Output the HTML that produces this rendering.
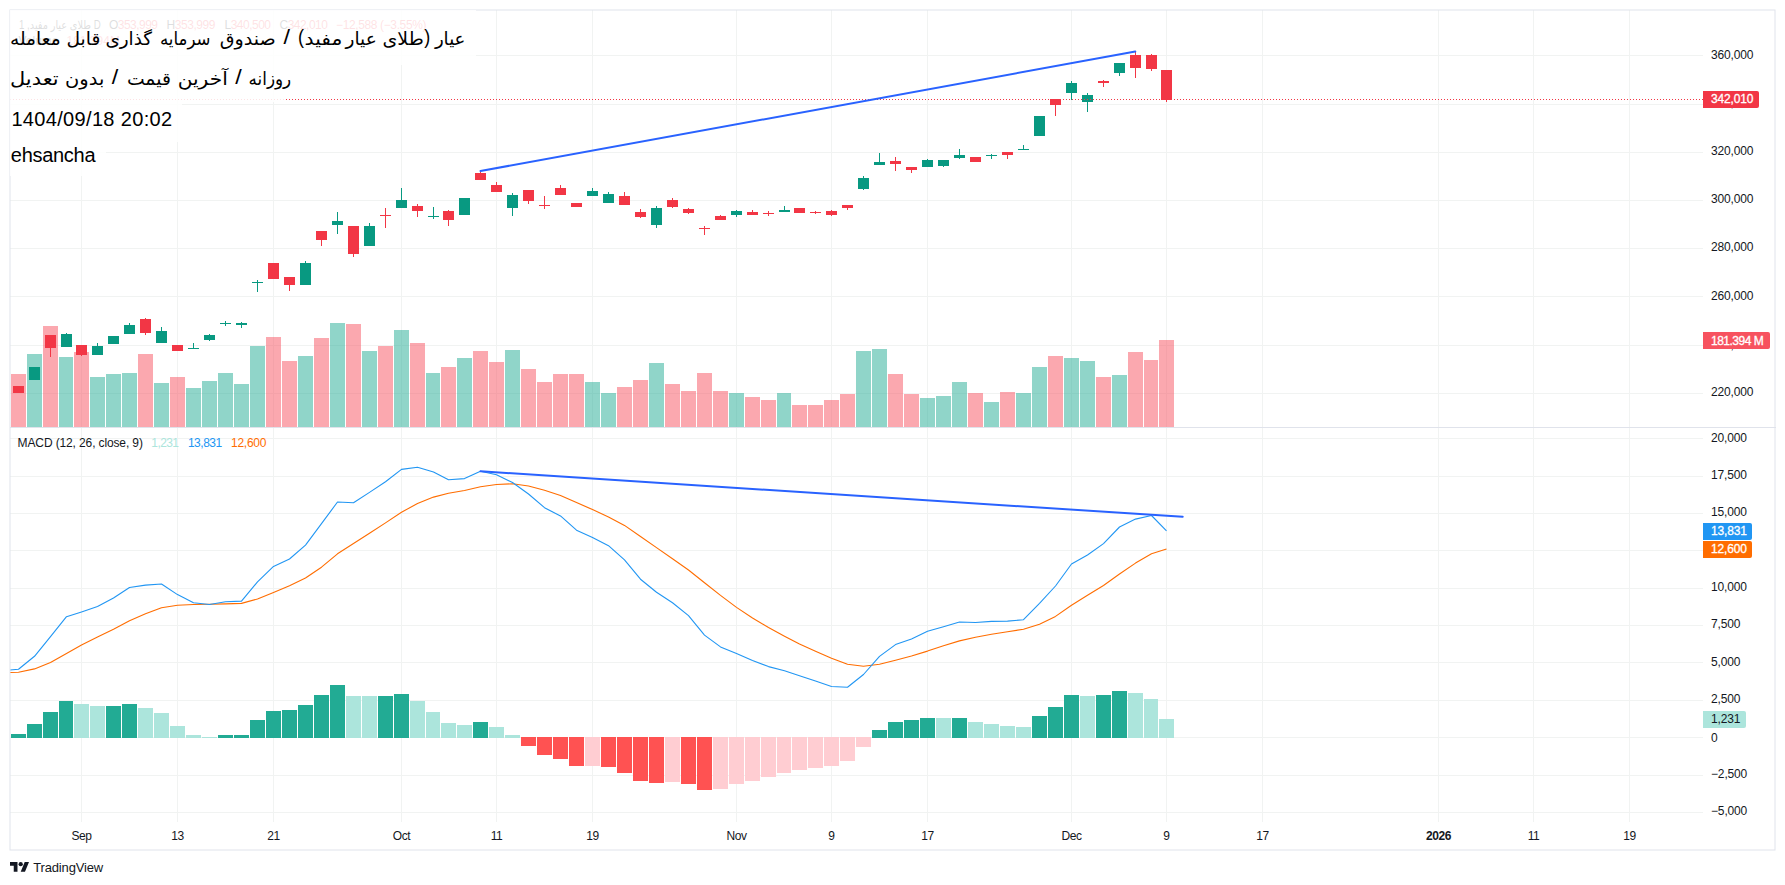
<!DOCTYPE html>
<html lang="fa"><head><meta charset="utf-8"><title>TradingView chart</title>
<style>
html,body{margin:0;padding:0;background:#fff}
body{width:1785px;height:885px;overflow:hidden;position:relative}
svg{position:absolute;left:0;top:0;display:block}
text{font-family:"Liberation Sans","DejaVu Sans",sans-serif}
.ar{font-family:"Liberation Sans","DejaVu Sans",sans-serif}
</style></head><body>
<svg width="1785" height="885" viewBox="0 0 1785 885" font-size="12" fill="#131722">
<rect width="1785" height="885" fill="#fff"/>
<g shape-rendering="crispEdges" fill="#f1f3f2">
<rect x="81" y="10" width="1" height="812"/><rect x="177" y="10" width="1" height="812"/><rect x="273" y="10" width="1" height="812"/><rect x="401" y="10" width="1" height="812"/><rect x="496" y="10" width="1" height="812"/><rect x="592" y="10" width="1" height="812"/><rect x="736" y="10" width="1" height="812"/><rect x="831" y="10" width="1" height="812"/><rect x="927" y="10" width="1" height="812"/><rect x="1071" y="10" width="1" height="812"/><rect x="1166" y="10" width="1" height="812"/><rect x="1262" y="10" width="1" height="812"/><rect x="1438" y="10" width="1" height="812"/><rect x="1533" y="10" width="1" height="812"/><rect x="1629" y="10" width="1" height="812"/>
<rect x="10" y="55" width="1693" height="1"/><rect x="10" y="104" width="1693" height="1"/><rect x="10" y="152" width="1693" height="1"/><rect x="10" y="200" width="1693" height="1"/><rect x="10" y="248" width="1693" height="1"/><rect x="10" y="296" width="1693" height="1"/><rect x="10" y="345" width="1693" height="1"/><rect x="10" y="393" width="1693" height="1"/><rect x="10" y="438" width="1693" height="1"/><rect x="10" y="476" width="1693" height="1"/><rect x="10" y="513" width="1693" height="1"/><rect x="10" y="550" width="1693" height="1"/><rect x="10" y="588" width="1693" height="1"/><rect x="10" y="625" width="1693" height="1"/><rect x="10" y="662" width="1693" height="1"/><rect x="10" y="700" width="1693" height="1"/><rect x="10" y="737" width="1693" height="1"/><rect x="10" y="775" width="1693" height="1"/><rect x="10" y="812" width="1693" height="1"/>
</g>
<g shape-rendering="crispEdges">
<rect x="11" y="374" width="15" height="53" fill="rgba(247,82,95,0.5)"/><rect x="27" y="354" width="15" height="73" fill="rgba(34,171,148,0.5)"/><rect x="43" y="326" width="15" height="101" fill="rgba(247,82,95,0.5)"/><rect x="59" y="357" width="14" height="70" fill="rgba(34,171,148,0.5)"/><rect x="74" y="352" width="15" height="75" fill="rgba(247,82,95,0.5)"/><rect x="90" y="377" width="15" height="50" fill="rgba(34,171,148,0.5)"/><rect x="106" y="374" width="15" height="53" fill="rgba(34,171,148,0.5)"/><rect x="122" y="373" width="15" height="54" fill="rgba(34,171,148,0.5)"/><rect x="138" y="354" width="15" height="73" fill="rgba(247,82,95,0.5)"/><rect x="154" y="383" width="15" height="44" fill="rgba(34,171,148,0.5)"/><rect x="170" y="377" width="15" height="50" fill="rgba(247,82,95,0.5)"/><rect x="186" y="388" width="15" height="39" fill="rgba(34,171,148,0.5)"/><rect x="202" y="381" width="15" height="46" fill="rgba(34,171,148,0.5)"/><rect x="218" y="373" width="15" height="54" fill="rgba(34,171,148,0.5)"/><rect x="234" y="384" width="15" height="43" fill="rgba(34,171,148,0.5)"/><rect x="250" y="346" width="15" height="81" fill="rgba(34,171,148,0.5)"/><rect x="266" y="337" width="15" height="90" fill="rgba(247,82,95,0.5)"/><rect x="282" y="361" width="15" height="66" fill="rgba(247,82,95,0.5)"/><rect x="298" y="356" width="15" height="71" fill="rgba(34,171,148,0.5)"/><rect x="314" y="338" width="15" height="89" fill="rgba(247,82,95,0.5)"/><rect x="330" y="323" width="15" height="104" fill="rgba(34,171,148,0.5)"/><rect x="346" y="324" width="15" height="103" fill="rgba(247,82,95,0.5)"/><rect x="362" y="351" width="15" height="76" fill="rgba(34,171,148,0.5)"/><rect x="378" y="346" width="15" height="81" fill="rgba(247,82,95,0.5)"/><rect x="394" y="330" width="15" height="97" fill="rgba(34,171,148,0.5)"/><rect x="410" y="343" width="15" height="84" fill="rgba(247,82,95,0.5)"/><rect x="426" y="373" width="14" height="54" fill="rgba(34,171,148,0.5)"/><rect x="441" y="367" width="15" height="60" fill="rgba(247,82,95,0.5)"/><rect x="457" y="358" width="15" height="69" fill="rgba(34,171,148,0.5)"/><rect x="473" y="351" width="15" height="76" fill="rgba(247,82,95,0.5)"/><rect x="489" y="362" width="15" height="65" fill="rgba(247,82,95,0.5)"/><rect x="505" y="350" width="15" height="77" fill="rgba(34,171,148,0.5)"/><rect x="521" y="369" width="15" height="58" fill="rgba(247,82,95,0.5)"/><rect x="537" y="382" width="15" height="45" fill="rgba(247,82,95,0.5)"/><rect x="553" y="374" width="15" height="53" fill="rgba(247,82,95,0.5)"/><rect x="569" y="374" width="15" height="53" fill="rgba(247,82,95,0.5)"/><rect x="585" y="382" width="15" height="45" fill="rgba(34,171,148,0.5)"/><rect x="601" y="393" width="15" height="34" fill="rgba(34,171,148,0.5)"/><rect x="617" y="387" width="15" height="40" fill="rgba(247,82,95,0.5)"/><rect x="633" y="380" width="15" height="47" fill="rgba(247,82,95,0.5)"/><rect x="649" y="363" width="15" height="64" fill="rgba(34,171,148,0.5)"/><rect x="665" y="384" width="15" height="43" fill="rgba(247,82,95,0.5)"/><rect x="681" y="391" width="15" height="36" fill="rgba(247,82,95,0.5)"/><rect x="697" y="373" width="15" height="54" fill="rgba(247,82,95,0.5)"/><rect x="713" y="391" width="15" height="36" fill="rgba(247,82,95,0.5)"/><rect x="729" y="393" width="15" height="34" fill="rgba(34,171,148,0.5)"/><rect x="745" y="397" width="15" height="30" fill="rgba(247,82,95,0.5)"/><rect x="761" y="400" width="15" height="27" fill="rgba(247,82,95,0.5)"/><rect x="777" y="393" width="14" height="34" fill="rgba(34,171,148,0.5)"/><rect x="792" y="405" width="15" height="22" fill="rgba(247,82,95,0.5)"/><rect x="808" y="405" width="15" height="22" fill="rgba(247,82,95,0.5)"/><rect x="824" y="400" width="15" height="27" fill="rgba(247,82,95,0.5)"/><rect x="840" y="394" width="15" height="33" fill="rgba(247,82,95,0.5)"/><rect x="856" y="351" width="15" height="76" fill="rgba(34,171,148,0.5)"/><rect x="872" y="349" width="15" height="78" fill="rgba(34,171,148,0.5)"/><rect x="888" y="374" width="15" height="53" fill="rgba(247,82,95,0.5)"/><rect x="904" y="394" width="15" height="33" fill="rgba(247,82,95,0.5)"/><rect x="920" y="398" width="15" height="29" fill="rgba(34,171,148,0.5)"/><rect x="936" y="396" width="15" height="31" fill="rgba(34,171,148,0.5)"/><rect x="952" y="382" width="15" height="45" fill="rgba(34,171,148,0.5)"/><rect x="968" y="393" width="15" height="34" fill="rgba(247,82,95,0.5)"/><rect x="984" y="402" width="15" height="25" fill="rgba(34,171,148,0.5)"/><rect x="1000" y="392" width="15" height="35" fill="rgba(247,82,95,0.5)"/><rect x="1016" y="393" width="15" height="34" fill="rgba(34,171,148,0.5)"/><rect x="1032" y="367" width="15" height="60" fill="rgba(34,171,148,0.5)"/><rect x="1048" y="356" width="15" height="71" fill="rgba(247,82,95,0.5)"/><rect x="1064" y="358" width="15" height="69" fill="rgba(34,171,148,0.5)"/><rect x="1080" y="361" width="15" height="66" fill="rgba(34,171,148,0.5)"/><rect x="1096" y="377" width="15" height="50" fill="rgba(247,82,95,0.5)"/><rect x="1112" y="375" width="15" height="52" fill="rgba(34,171,148,0.5)"/><rect x="1128" y="352" width="15" height="75" fill="rgba(247,82,95,0.5)"/><rect x="1144" y="360" width="14" height="67" fill="rgba(247,82,95,0.5)"/><rect x="1159" y="340" width="15" height="87" fill="rgba(247,82,95,0.5)"/>
</g>
<g shape-rendering="crispEdges">
<rect x="13" y="386" width="11" height="7" fill="#f23645"/><rect x="29" y="367" width="11" height="13" fill="#089981"/><rect x="50" y="335" width="1" height="22" fill="#f23645"/><rect x="45" y="335" width="11" height="13" fill="#f23645"/><rect x="66" y="333" width="1" height="14" fill="#089981"/><rect x="61" y="334" width="11" height="13" fill="#089981"/><rect x="81" y="345" width="1" height="11" fill="#f23645"/><rect x="76" y="345" width="11" height="10" fill="#f23645"/><rect x="97" y="343" width="1" height="12" fill="#089981"/><rect x="92" y="346" width="11" height="9" fill="#089981"/><rect x="108" y="336" width="11" height="8" fill="#089981"/><rect x="129" y="323" width="1" height="11" fill="#089981"/><rect x="124" y="325" width="11" height="9" fill="#089981"/><rect x="145" y="318" width="1" height="17" fill="#f23645"/><rect x="140" y="319" width="11" height="14" fill="#f23645"/><rect x="161" y="327" width="1" height="16" fill="#089981"/><rect x="156" y="331" width="11" height="12" fill="#089981"/><rect x="172" y="345" width="11" height="6" fill="#f23645"/><rect x="193" y="343" width="1" height="6" fill="#089981"/><rect x="188" y="348" width="11" height="1" fill="#089981"/><rect x="209" y="334" width="1" height="7" fill="#089981"/><rect x="204" y="335" width="11" height="5" fill="#089981"/><rect x="225" y="321" width="1" height="5" fill="#089981"/><rect x="220" y="323" width="11" height="1" fill="#089981"/><rect x="241" y="322" width="1" height="6" fill="#089981"/><rect x="236" y="323" width="11" height="2" fill="#089981"/><rect x="257" y="280" width="1" height="12" fill="#089981"/><rect x="252" y="282" width="11" height="1" fill="#089981"/><rect x="268" y="263" width="11" height="16" fill="#f23645"/><rect x="289" y="277" width="1" height="14" fill="#f23645"/><rect x="284" y="277" width="11" height="8" fill="#f23645"/><rect x="305" y="261" width="1" height="24" fill="#089981"/><rect x="300" y="263" width="11" height="22" fill="#089981"/><rect x="321" y="231" width="1" height="15" fill="#f23645"/><rect x="316" y="231" width="11" height="9" fill="#f23645"/><rect x="337" y="212" width="1" height="22" fill="#089981"/><rect x="332" y="221" width="11" height="4" fill="#089981"/><rect x="353" y="226" width="1" height="31" fill="#f23645"/><rect x="348" y="226" width="11" height="28" fill="#f23645"/><rect x="369" y="223" width="1" height="23" fill="#089981"/><rect x="364" y="226" width="11" height="20" fill="#089981"/><rect x="385" y="208" width="1" height="20" fill="#f23645"/><rect x="380" y="215" width="11" height="1" fill="#f23645"/><rect x="401" y="188" width="1" height="20" fill="#089981"/><rect x="396" y="200" width="11" height="8" fill="#089981"/><rect x="417" y="204" width="1" height="13" fill="#f23645"/><rect x="412" y="206" width="11" height="5" fill="#f23645"/><rect x="433" y="207" width="1" height="12" fill="#089981"/><rect x="428" y="216" width="11" height="1" fill="#089981"/><rect x="448" y="210" width="1" height="16" fill="#f23645"/><rect x="443" y="211" width="11" height="9" fill="#f23645"/><rect x="459" y="198" width="11" height="17" fill="#089981"/><rect x="480" y="171" width="1" height="9" fill="#f23645"/><rect x="475" y="173" width="11" height="7" fill="#f23645"/><rect x="496" y="182" width="1" height="10" fill="#f23645"/><rect x="491" y="185" width="11" height="7" fill="#f23645"/><rect x="512" y="193" width="1" height="23" fill="#089981"/><rect x="507" y="195" width="11" height="13" fill="#089981"/><rect x="528" y="190" width="1" height="14" fill="#f23645"/><rect x="523" y="190" width="11" height="11" fill="#f23645"/><rect x="544" y="196" width="1" height="13" fill="#f23645"/><rect x="539" y="205" width="11" height="1" fill="#f23645"/><rect x="560" y="185" width="1" height="10" fill="#f23645"/><rect x="555" y="188" width="11" height="7" fill="#f23645"/><rect x="571" y="203" width="11" height="4" fill="#f23645"/><rect x="592" y="188" width="1" height="8" fill="#089981"/><rect x="587" y="191" width="11" height="5" fill="#089981"/><rect x="608" y="192" width="1" height="11" fill="#089981"/><rect x="603" y="194" width="11" height="9" fill="#089981"/><rect x="624" y="192" width="1" height="13" fill="#f23645"/><rect x="619" y="196" width="11" height="9" fill="#f23645"/><rect x="640" y="209" width="1" height="9" fill="#f23645"/><rect x="635" y="212" width="11" height="5" fill="#f23645"/><rect x="656" y="206" width="1" height="22" fill="#089981"/><rect x="651" y="208" width="11" height="17" fill="#089981"/><rect x="672" y="198" width="1" height="10" fill="#f23645"/><rect x="667" y="200" width="11" height="7" fill="#f23645"/><rect x="688" y="208" width="1" height="6" fill="#f23645"/><rect x="683" y="209" width="11" height="4" fill="#f23645"/><rect x="704" y="226" width="1" height="9" fill="#f23645"/><rect x="699" y="228" width="11" height="1" fill="#f23645"/><rect x="720" y="215" width="1" height="5" fill="#f23645"/><rect x="715" y="216" width="11" height="4" fill="#f23645"/><rect x="736" y="210" width="1" height="7" fill="#089981"/><rect x="731" y="211" width="11" height="4" fill="#089981"/><rect x="752" y="210" width="1" height="5" fill="#f23645"/><rect x="747" y="212" width="11" height="3" fill="#f23645"/><rect x="768" y="211" width="1" height="5" fill="#f23645"/><rect x="763" y="213" width="11" height="1" fill="#f23645"/><rect x="784" y="206" width="1" height="6" fill="#089981"/><rect x="779" y="210" width="11" height="2" fill="#089981"/><rect x="794" y="208" width="11" height="5" fill="#f23645"/><rect x="815" y="211" width="1" height="3" fill="#f23645"/><rect x="810" y="212" width="11" height="1" fill="#f23645"/><rect x="831" y="210" width="1" height="6" fill="#f23645"/><rect x="826" y="211" width="11" height="4" fill="#f23645"/><rect x="847" y="205" width="1" height="5" fill="#f23645"/><rect x="842" y="205" width="11" height="3" fill="#f23645"/><rect x="863" y="176" width="1" height="14" fill="#089981"/><rect x="858" y="178" width="11" height="11" fill="#089981"/><rect x="879" y="153" width="1" height="12" fill="#089981"/><rect x="874" y="162" width="11" height="3" fill="#089981"/><rect x="895" y="157" width="1" height="14" fill="#f23645"/><rect x="890" y="161" width="11" height="3" fill="#f23645"/><rect x="911" y="167" width="1" height="6" fill="#f23645"/><rect x="906" y="167" width="11" height="3" fill="#f23645"/><rect x="927" y="159" width="1" height="8" fill="#089981"/><rect x="922" y="160" width="11" height="7" fill="#089981"/><rect x="943" y="160" width="1" height="7" fill="#089981"/><rect x="938" y="160" width="11" height="6" fill="#089981"/><rect x="959" y="149" width="1" height="10" fill="#089981"/><rect x="954" y="155" width="11" height="3" fill="#089981"/><rect x="970" y="157" width="11" height="5" fill="#f23645"/><rect x="991" y="154" width="1" height="5" fill="#089981"/><rect x="986" y="155" width="11" height="1" fill="#089981"/><rect x="1007" y="152" width="1" height="7" fill="#f23645"/><rect x="1002" y="152" width="11" height="3" fill="#f23645"/><rect x="1023" y="145" width="1" height="5" fill="#089981"/><rect x="1018" y="149" width="11" height="1" fill="#089981"/><rect x="1034" y="116" width="11" height="20" fill="#089981"/><rect x="1055" y="99" width="1" height="17" fill="#f23645"/><rect x="1050" y="99" width="11" height="6" fill="#f23645"/><rect x="1071" y="81" width="1" height="19" fill="#089981"/><rect x="1066" y="83" width="11" height="10" fill="#089981"/><rect x="1087" y="93" width="1" height="19" fill="#089981"/><rect x="1082" y="95" width="11" height="7" fill="#089981"/><rect x="1103" y="80" width="1" height="7" fill="#f23645"/><rect x="1098" y="81" width="11" height="2" fill="#f23645"/><rect x="1119" y="63" width="1" height="13" fill="#089981"/><rect x="1114" y="63" width="11" height="10" fill="#089981"/><rect x="1135" y="52" width="1" height="26" fill="#f23645"/><rect x="1130" y="55" width="11" height="13" fill="#f23645"/><rect x="1151" y="54" width="1" height="17" fill="#f23645"/><rect x="1146" y="55" width="11" height="14" fill="#f23645"/><rect x="1166" y="70" width="1" height="32" fill="#f23645"/><rect x="1161" y="70" width="11" height="30" fill="#f23645"/>
</g>
<line x1="10" y1="99.5" x2="1703" y2="99.5" stroke="#f23645" stroke-width="1" stroke-dasharray="1 2" shape-rendering="crispEdges"/>
<line x1="480.5" y1="171" x2="1135.3" y2="51.6" stroke="#2962ff" stroke-width="2" stroke-linecap="round"/>
<g shape-rendering="crispEdges">
<rect x="11" y="734" width="15" height="4" fill="#22ab94"/><rect x="27" y="724" width="15" height="14" fill="#22ab94"/><rect x="43" y="712" width="15" height="26" fill="#22ab94"/><rect x="59" y="701" width="14" height="37" fill="#22ab94"/><rect x="74" y="704" width="15" height="34" fill="#ace5dc"/><rect x="90" y="706" width="15" height="32" fill="#ace5dc"/><rect x="106" y="706" width="15" height="32" fill="#22ab94"/><rect x="122" y="704" width="15" height="34" fill="#22ab94"/><rect x="138" y="708" width="15" height="30" fill="#ace5dc"/><rect x="154" y="713" width="15" height="25" fill="#ace5dc"/><rect x="170" y="726" width="15" height="12" fill="#ace5dc"/><rect x="186" y="735" width="15" height="3" fill="#ace5dc"/><rect x="202" y="737" width="15" height="1" fill="#ace5dc"/><rect x="218" y="735" width="15" height="3" fill="#22ab94"/><rect x="234" y="735" width="15" height="3" fill="#22ab94"/><rect x="250" y="720" width="15" height="18" fill="#22ab94"/><rect x="266" y="711" width="15" height="27" fill="#22ab94"/><rect x="282" y="710" width="15" height="28" fill="#22ab94"/><rect x="298" y="705" width="15" height="33" fill="#22ab94"/><rect x="314" y="695" width="15" height="43" fill="#22ab94"/><rect x="330" y="685" width="15" height="53" fill="#22ab94"/><rect x="346" y="696" width="15" height="42" fill="#ace5dc"/><rect x="362" y="696" width="15" height="42" fill="#ace5dc"/><rect x="378" y="696" width="15" height="42" fill="#22ab94"/><rect x="394" y="694" width="15" height="44" fill="#22ab94"/><rect x="410" y="701" width="15" height="37" fill="#ace5dc"/><rect x="426" y="712" width="14" height="26" fill="#ace5dc"/><rect x="441" y="723" width="15" height="15" fill="#ace5dc"/><rect x="457" y="725" width="15" height="13" fill="#ace5dc"/><rect x="473" y="722" width="15" height="16" fill="#22ab94"/><rect x="489" y="727" width="15" height="11" fill="#ace5dc"/><rect x="505" y="735" width="15" height="3" fill="#ace5dc"/><rect x="521" y="737" width="15" height="9" fill="#ff5252"/><rect x="537" y="737" width="15" height="18" fill="#ff5252"/><rect x="553" y="737" width="15" height="22" fill="#ff5252"/><rect x="569" y="737" width="15" height="29" fill="#ff5252"/><rect x="585" y="737" width="15" height="29" fill="#ffcdd2"/><rect x="601" y="737" width="15" height="30" fill="#ff5252"/><rect x="617" y="737" width="15" height="36" fill="#ff5252"/><rect x="633" y="737" width="15" height="44" fill="#ff5252"/><rect x="649" y="737" width="15" height="46" fill="#ff5252"/><rect x="665" y="737" width="15" height="45" fill="#ffcdd2"/><rect x="681" y="737" width="15" height="47" fill="#ff5252"/><rect x="697" y="737" width="15" height="53" fill="#ff5252"/><rect x="713" y="737" width="15" height="52" fill="#ffcdd2"/><rect x="729" y="737" width="15" height="47" fill="#ffcdd2"/><rect x="745" y="737" width="15" height="44" fill="#ffcdd2"/><rect x="761" y="737" width="15" height="40" fill="#ffcdd2"/><rect x="777" y="737" width="14" height="36" fill="#ffcdd2"/><rect x="792" y="737" width="15" height="33" fill="#ffcdd2"/><rect x="808" y="737" width="15" height="31" fill="#ffcdd2"/><rect x="824" y="737" width="15" height="29" fill="#ffcdd2"/><rect x="840" y="737" width="15" height="24" fill="#ffcdd2"/><rect x="856" y="737" width="15" height="10" fill="#ffcdd2"/><rect x="872" y="730" width="15" height="8" fill="#22ab94"/><rect x="888" y="722" width="15" height="16" fill="#22ab94"/><rect x="904" y="720" width="15" height="18" fill="#22ab94"/><rect x="920" y="718" width="15" height="20" fill="#22ab94"/><rect x="936" y="718" width="15" height="20" fill="#ace5dc"/><rect x="952" y="718" width="15" height="20" fill="#22ab94"/><rect x="968" y="722" width="15" height="16" fill="#ace5dc"/><rect x="984" y="724" width="15" height="14" fill="#ace5dc"/><rect x="1000" y="726" width="15" height="12" fill="#ace5dc"/><rect x="1016" y="727" width="15" height="11" fill="#ace5dc"/><rect x="1032" y="716" width="15" height="22" fill="#22ab94"/><rect x="1048" y="707" width="15" height="31" fill="#22ab94"/><rect x="1064" y="695" width="15" height="43" fill="#22ab94"/><rect x="1080" y="696" width="15" height="42" fill="#ace5dc"/><rect x="1096" y="695" width="15" height="43" fill="#22ab94"/><rect x="1112" y="691" width="15" height="47" fill="#22ab94"/><rect x="1128" y="693" width="15" height="45" fill="#ace5dc"/><rect x="1144" y="699" width="14" height="39" fill="#ace5dc"/><rect x="1159" y="719" width="15" height="19" fill="#ace5dc"/>
</g>
<clipPath id="cp"><rect x="10" y="428" width="1693" height="393"/></clipPath>
<g clip-path="url(#cp)" fill="none" stroke-width="1.1" stroke-linejoin="round">
<polyline points="2.5,672.6 18.5,672.3 34.5,668.9 50.5,662.6 66.5,653.6 81.5,645.0 97.5,637.0 113.5,629.2 129.5,620.7 145.5,613.8 161.5,607.7 177.5,605.3 193.5,604.5 209.5,604.2 225.5,603.9 241.5,603.4 257.5,599.0 273.5,592.5 289.5,585.7 305.5,578.0 321.5,567.2 337.5,553.8 353.5,543.5 369.5,533.2 385.5,522.9 401.5,512.3 417.5,503.4 433.5,497.1 448.5,493.3 464.5,490.5 480.5,486.8 496.5,484.5 512.5,483.8 528.5,486.0 544.5,490.3 560.5,495.4 576.5,502.6 592.5,509.6 608.5,516.9 624.5,525.4 640.5,536.5 656.5,547.6 672.5,558.7 688.5,570.0 704.5,582.8 720.5,595.4 736.5,607.4 752.5,618.0 768.5,627.5 784.5,636.2 799.5,644.1 815.5,651.2 831.5,658.3 847.5,664.3 863.5,666.2 879.5,664.3 895.5,660.2 911.5,656.0 927.5,651.1 943.5,645.7 959.5,640.9 975.5,637.2 991.5,634.3 1007.5,631.8 1023.5,629.2 1039.5,624.2 1055.5,616.4 1071.5,605.3 1087.5,595.3 1103.5,585.5 1119.5,574.0 1135.5,563.1 1151.5,553.8 1166.5,549.1" stroke="#ff6d00"/>
<polyline points="2.5,670.5 18.5,669.3 34.5,656.3 50.5,636.6 66.5,616.7 81.5,611.9 97.5,606.5 113.5,598.0 129.5,587.5 145.5,585.1 161.5,584.0 177.5,594.6 193.5,602.7 209.5,604.5 225.5,601.8 241.5,601.1 257.5,581.9 273.5,566.4 289.5,559.0 305.5,545.1 321.5,523.7 337.5,502.0 353.5,502.8 369.5,492.4 385.5,481.8 401.5,469.4 417.5,467.2 433.5,472.0 448.5,479.7 464.5,478.6 480.5,471.2 496.5,474.7 512.5,482.5 528.5,494.0 544.5,507.7 560.5,515.9 576.5,530.2 592.5,537.5 608.5,545.7 624.5,559.9 640.5,579.2 656.5,592.3 672.5,602.8 688.5,615.6 704.5,635.1 720.5,646.9 736.5,653.6 752.5,660.4 768.5,666.6 784.5,670.7 799.5,675.7 815.5,681.1 831.5,686.5 847.5,687.3 863.5,674.5 879.5,656.4 895.5,644.6 911.5,639.1 927.5,631.3 943.5,626.7 959.5,622.0 975.5,622.5 991.5,621.4 1007.5,621.1 1023.5,619.7 1039.5,603.3 1055.5,586.0 1071.5,564.0 1087.5,555.0 1103.5,543.6 1119.5,527.0 1135.5,519.1 1151.5,515.5 1166.5,530.8" stroke="#2196f3"/>
</g>
<line x1="480.5" y1="471.3" x2="1182.7" y2="516.8" stroke="#2962ff" stroke-width="2" stroke-linecap="round"/>
<g font-size="12">
<text x="19" y="29" class="ar" fill="#131722" textLength="81.7" lengthAdjust="spacingAndGlyphs">1 ,طلای عیار مفید D</text>
<text x="109" y="29" textLength="49"><tspan>O</tspan><tspan fill="#f23645">353,999</tspan></text>
<text x="166.5" y="29" textLength="49"><tspan>H</tspan><tspan fill="#f23645">353,999</tspan></text>
<text x="224.5" y="29" textLength="46.5"><tspan>L</tspan><tspan fill="#f23645">340,500</tspan></text>
<text x="279.5" y="29" textLength="48.4"><tspan>C</tspan><tspan fill="#f23645">342,010</tspan></text>
<text x="336" y="29" textLength="90.5" fill="#f23645">−12,588 (−3.55%)</text>
<text x="18.5" y="45">Volume</text><text x="66.5" y="45" fill="#f7525f">181.394M</text>
</g>
<rect x="10" y="427" width="1766" height="1" fill="#e0e3eb" shape-rendering="crispEdges"/>
<rect x="10" y="10" width="1765" height="840" fill="none" stroke="#e0e3eb" stroke-width="1"/>
<g fill="#fff" fill-opacity="0.86" shape-rendering="crispEdges">
<rect x="10" y="10" width="466" height="55"/><rect x="10" y="65" width="275" height="37"/><rect x="10" y="102" width="172" height="40"/><rect x="10" y="142" width="96" height="34"/>
</g>
<g font-size="20" fill="#000">
<text class="ar" x="434.9" y="45.3" font-size="18" fill="#000" textLength="30.5" lengthAdjust="spacingAndGlyphs">عیار</text><text class="ar" x="424.3" y="43.8" font-size="20" fill="#000" textLength="6.0" lengthAdjust="spacingAndGlyphs">)</text><text class="ar" x="382.5" y="45.3" font-size="18" fill="#000" textLength="41.2" lengthAdjust="spacingAndGlyphs">طلای</text><text class="ar" x="345.5" y="45.3" font-size="18" fill="#000" textLength="31.2" lengthAdjust="spacingAndGlyphs">عیار</text><text class="ar" x="304.5" y="45.3" font-size="18" fill="#000" textLength="37.9" lengthAdjust="spacingAndGlyphs">مفید</text><text class="ar" x="297.9" y="43.8" font-size="20" fill="#000" textLength="6.0" lengthAdjust="spacingAndGlyphs">(</text><text class="ar" x="283.5" y="43.8" font-size="20" fill="#000" textLength="6.5" lengthAdjust="spacingAndGlyphs">/</text><text class="ar" x="219.7" y="45.3" font-size="18" fill="#000" textLength="56.1" lengthAdjust="spacingAndGlyphs">صندوق</text><text class="ar" x="159.9" y="45.3" font-size="18" fill="#000" textLength="50.6" lengthAdjust="spacingAndGlyphs">سرمایه</text><text class="ar" x="105.4" y="45.3" font-size="18" fill="#000" textLength="46.7" lengthAdjust="spacingAndGlyphs">گذاری</text><text class="ar" x="66.4" y="45.3" font-size="18" fill="#000" textLength="33.9" lengthAdjust="spacingAndGlyphs">قابل</text><text class="ar" x="10.0" y="45.3" font-size="18" fill="#000" textLength="50.6" lengthAdjust="spacingAndGlyphs">معامله</text>
<text class="ar" x="248.6" y="85.3" font-size="18" fill="#000" textLength="42.6" lengthAdjust="spacingAndGlyphs">روزانه</text><text class="ar" x="235.2" y="84.1" font-size="20" fill="#000" textLength="6.5" lengthAdjust="spacingAndGlyphs">/</text><text class="ar" x="177.7" y="85.3" font-size="18" fill="#000" textLength="50.1" lengthAdjust="spacingAndGlyphs">آخرین</text><text class="ar" x="126.9" y="85.3" font-size="18" fill="#000" textLength="44.0" lengthAdjust="spacingAndGlyphs">قیمت</text><text class="ar" x="111.8" y="84.1" font-size="20" fill="#000" textLength="6.5" lengthAdjust="spacingAndGlyphs">/</text><text class="ar" x="65.1" y="85.3" font-size="18" fill="#000" textLength="39.2" lengthAdjust="spacingAndGlyphs">بدون</text><text class="ar" x="10.0" y="85.3" font-size="18" fill="#000" textLength="48.6" lengthAdjust="spacingAndGlyphs">تعدیل</text>
<text x="11.4" y="126.2" font-size="20" fill="#000" textLength="160.7" lengthAdjust="spacing">1404/09/18 20:02</text>
<text x="10.8" y="161.5" font-size="20" fill="#000" textLength="84.7" lengthAdjust="spacing">ehsancha</text>
</g>
<text x="17.6" y="447" textLength="125.3" lengthAdjust="spacing">MACD (12, 26, close, 9)</text><text x="151.3" y="447" fill="#ace5dc" textLength="27.7">1,231</text><text x="187.9" y="447" fill="#2196f3" textLength="34.3">13,831</text><text x="231" y="447" fill="#ff6d00" textLength="35.4">12,600</text>
<g letter-spacing="-0.15">
<text x="1711" y="59.0">360,000</text><text x="1711" y="107.0">340,000</text><text x="1711" y="155.0">320,000</text><text x="1711" y="203.0">300,000</text><text x="1711" y="251.0">280,000</text><text x="1711" y="300.0">260,000</text><text x="1711" y="348.5">240,000</text><text x="1711" y="396.0">220,000</text><text x="1711" y="442.0">20,000</text><text x="1711" y="479.0">17,500</text><text x="1711" y="516.0">15,000</text><text x="1711" y="553.5">12,500</text><text x="1711" y="591.0">10,000</text><text x="1711" y="628.0">7,500</text><text x="1711" y="666.0">5,000</text><text x="1711" y="703.0">2,500</text><text x="1711" y="741.5">0</text><text x="1711" y="778.0">−2,500</text><text x="1711" y="815.0">−5,000</text>
</g>
<path d="M1703 91 h54 a2 2 0 0 1 2 2 v13 a2 2 0 0 1 -2 2 h-54 z" fill="#f23645"/><text x="1711" y="103.0" fill="#fff" stroke="#fff" stroke-width="0.3" letter-spacing="-0.15">342,010</text>
<path d="M1703 332 h65 a2 2 0 0 1 2 2 v13 a2 2 0 0 1 -2 2 h-65 z" fill="#f7525f"/><text x="1711" y="345.0" fill="#fff" stroke="#fff" stroke-width="0.3" textLength="52.5" letter-spacing="-0.15">181.394 M</text>
<path d="M1703 523 h47 a2 2 0 0 1 2 2 v13 a2 2 0 0 1 -2 2 h-47 z" fill="#2196f3"/><text x="1711" y="535.0" fill="#fff" stroke="#fff" stroke-width="0.3" letter-spacing="-0.15">13,831</text>
<path d="M1703 541 h47 a2 2 0 0 1 2 2 v13 a2 2 0 0 1 -2 2 h-47 z" fill="#ff6d00"/><text x="1711" y="553.0" fill="#fff" stroke="#fff" stroke-width="0.3" letter-spacing="-0.15">12,600</text>
<path d="M1703 711 h41 a2 2 0 0 1 2 2 v13 a2 2 0 0 1 -2 2 h-41 z" fill="#ace5dc"/><text x="1711" y="723.0" fill="#131722" letter-spacing="-0.15">1,231</text>
<text x="81.5" y="840" text-anchor="middle" letter-spacing="-0.4">Sep</text><text x="177.5" y="840" text-anchor="middle" letter-spacing="-0.4">13</text><text x="273.5" y="840" text-anchor="middle" letter-spacing="-0.4">21</text><text x="401.5" y="840" text-anchor="middle" letter-spacing="-0.4">Oct</text><text x="496.5" y="840" text-anchor="middle" letter-spacing="-0.4">11</text><text x="592.5" y="840" text-anchor="middle" letter-spacing="-0.4">19</text><text x="736.5" y="840" text-anchor="middle" letter-spacing="-0.4">Nov</text><text x="831.5" y="840" text-anchor="middle" letter-spacing="-0.4">9</text><text x="927.5" y="840" text-anchor="middle" letter-spacing="-0.4">17</text><text x="1071.5" y="840" text-anchor="middle" letter-spacing="-0.4">Dec</text><text x="1166.5" y="840" text-anchor="middle" letter-spacing="-0.4">9</text><text x="1262.5" y="840" text-anchor="middle" letter-spacing="-0.4">17</text><text x="1438.5" y="840" text-anchor="middle" letter-spacing="-0.4" font-weight="bold">2026</text><text x="1533.5" y="840" text-anchor="middle" letter-spacing="-0.4">11</text><text x="1629.5" y="840" text-anchor="middle" letter-spacing="-0.4">19</text>
<g transform="translate(10,859.9) scale(0.535)" fill="#131722"><path d="M14 22H7V11H0V4h14v18zM28 22h-8l7.5-18h8L28 22z"/><circle cx="20" cy="8" r="4"/></g>
<text x="33.2" y="871.7" font-size="13" textLength="70" lengthAdjust="spacing">TradingView</text>
</svg>
</body></html>
